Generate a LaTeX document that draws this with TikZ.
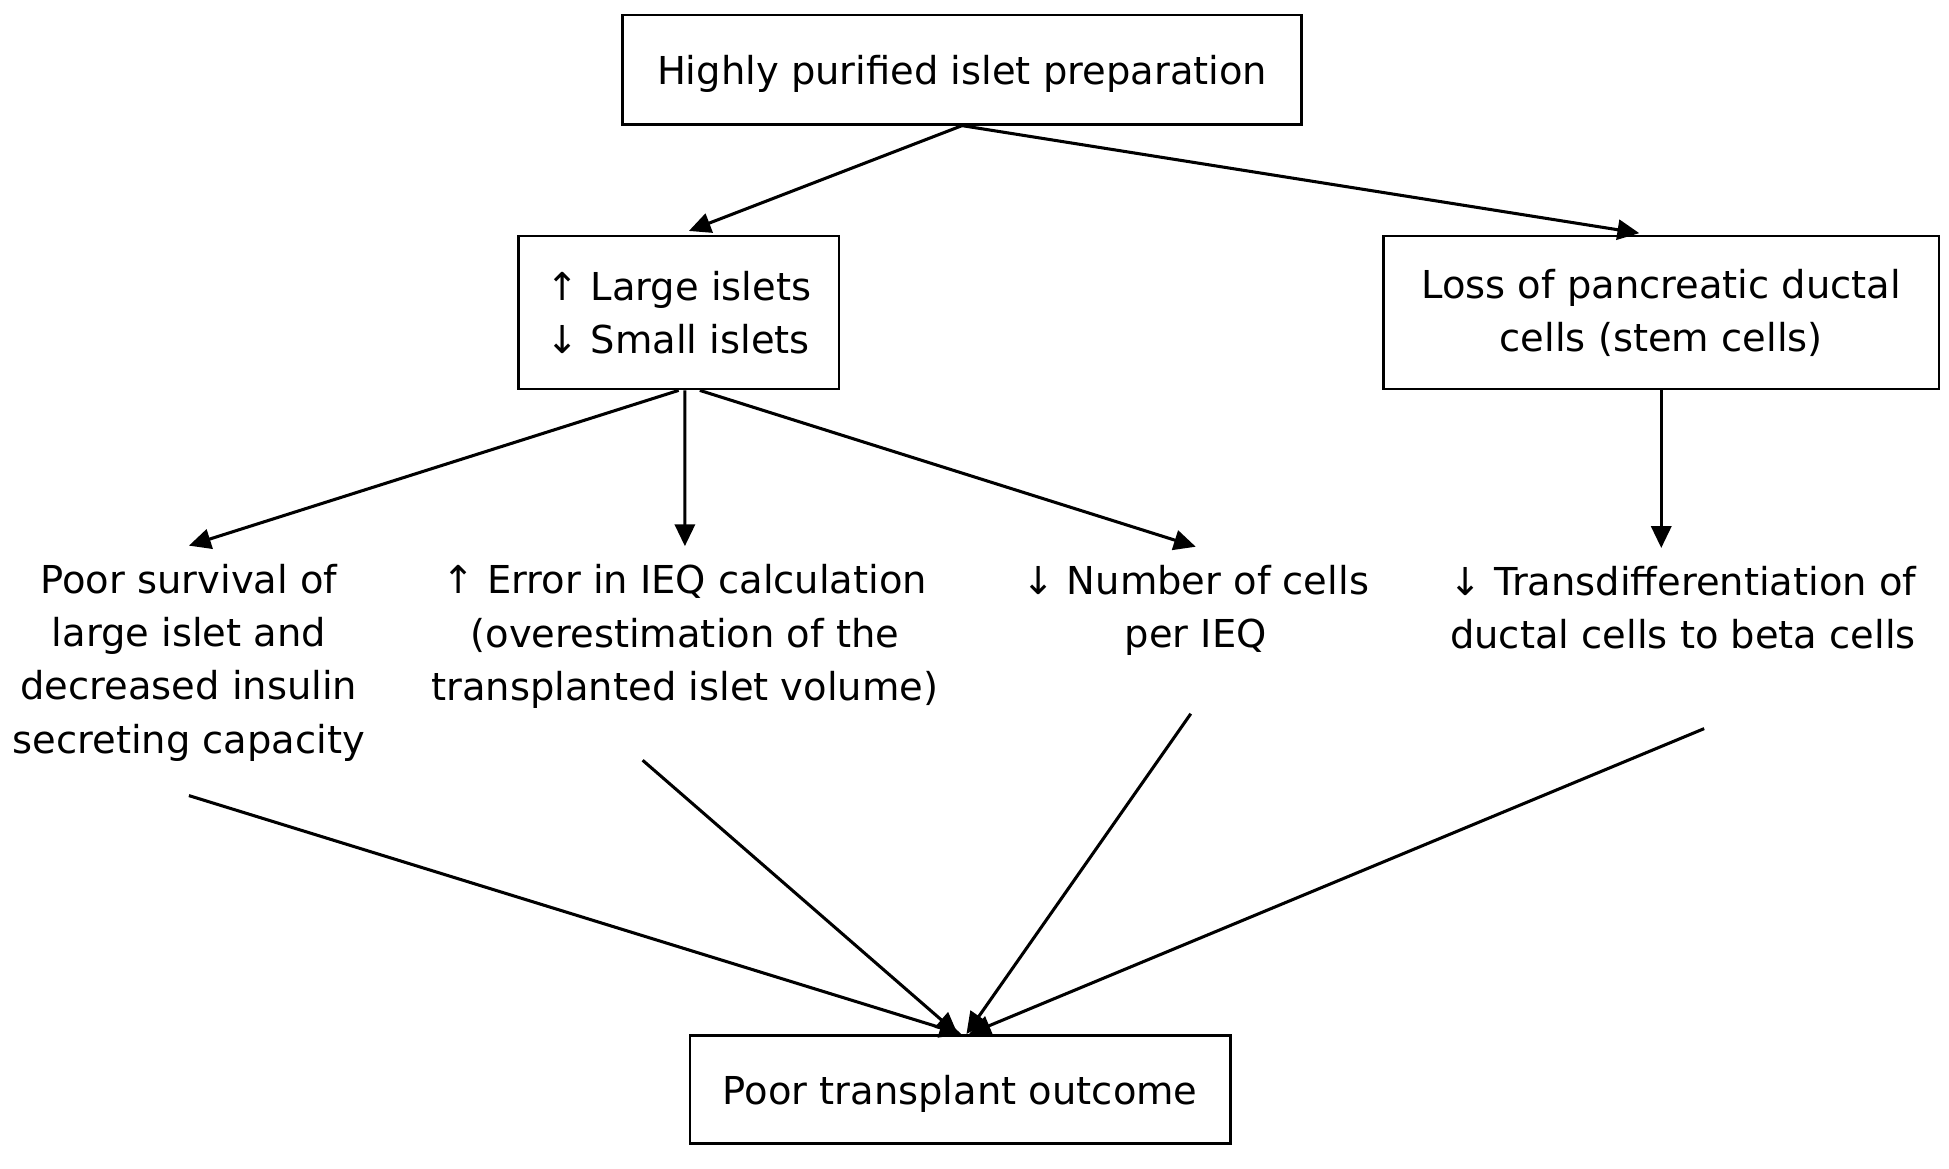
\documentclass[tikz,border=0pt]{standalone}
\usepackage{fontspec}
\setmainfont{DejaVu Sans}
\usetikzlibrary{arrows.meta}

\begin{document}
\begin{tikzpicture}[
  every node/.style={font=\fontsize{8.8}{12.2}\selectfont, align=center},
  box/.style={draw, line width=0.6pt, inner sep=0pt},
  note/.style={inner sep=4pt},
  arr/.style={-{Triangle[length=5pt,width=4.6pt]}, line width=0.7pt}
]
  \useasboundingbox (0,0) rectangle (15.68,-9.40);

  % Boxes
  \node[box, text depth=0pt, minimum width=5.46cm, minimum height=0.88cm] (prep) at (7.74,-0.56)
    {Highly purified islet preparation};
  \node[box, minimum width=2.58cm, minimum height=1.23cm, align=left] (size) at (5.46,-2.515)
    {↑ Large islets\\ ↓ Small islets};
  \node[box, minimum width=4.47cm, minimum height=1.23cm] (duct) at (13.365,-2.515)
    {Loss of pancreatic ductal\\ cells (stem cells)};
  \node[box, text depth=0pt, minimum width=4.35cm, minimum height=0.87cm] (out) at (7.725,-8.765)
    {Poor transplant outcome};

  % Consequences
  \node[note] (surv) at (1.52,-5.33)
    {Poor survival of\\ large islet and\\ decreased insulin\\ secreting capacity};
  \node[note] (ieq) at (5.51,-5.12)
    {↑ Error in IEQ calculation\\ (overestimation of the\\ transplanted islet volume)};
  \node[note] (cells) at (9.62,-4.91)
    {↓ Number of cells\\ per IEQ};
  \node[note] (trans) at (13.54,-4.89)
    {↓ Transdifferentiation of\\ ductal cells to beta cells};

  % Free ends of the lower arrows
  \coordinate (survend) at ([yshift=-0.13cm]surv.south);
  \coordinate (ieqend) at ([xshift=-0.34cm,yshift=-0.27cm]ieq.south);
  \coordinate (cellsend) at ([xshift=-0.04cm,yshift=-0.32cm]cells.south);
  \coordinate (transend) at ([xshift=0.17cm,yshift=-0.49cm]trans.south);

  % Arrows
  \draw[arr, shorten >=2.5pt] (prep.south) -- (size.north);
  \draw[arr, shorten >=2.5pt] (prep.south) -- ([xshift=-0.09cm]duct.north);

  \draw[arr] (size.south) -- (surv.north);
  \draw[arr] ([xshift=0.05cm]size.south) -- (ieq.north);
  \draw[arr] ([xshift=0.17cm]size.south) -- (cells.north);
  \draw[arr] (duct.south) -- (duct.south |- trans.north);

  \draw[arr] (survend) -- ([xshift=0.01cm]out.north);
  \draw[arr] (ieqend) -- ([xshift=-0.02cm]out.north);
  \draw[arr] (cellsend) -- ([xshift=0.05cm]out.north);
  \draw[arr] (transend) -- ([xshift=0.07cm]out.north);
\end{tikzpicture}
\end{document}
